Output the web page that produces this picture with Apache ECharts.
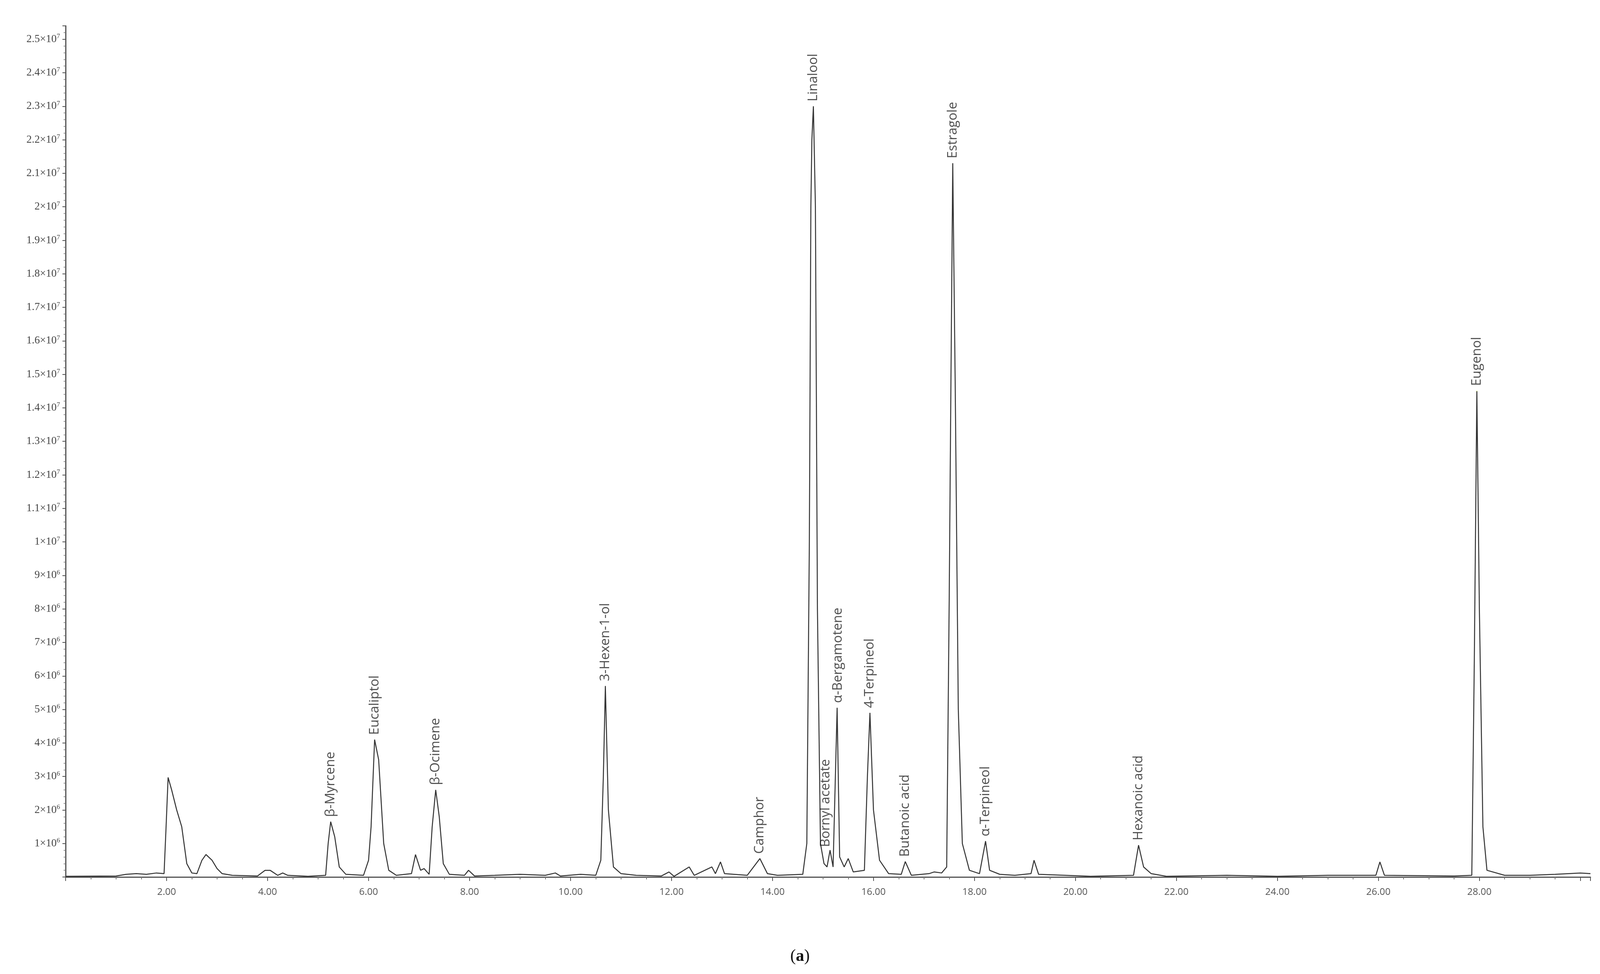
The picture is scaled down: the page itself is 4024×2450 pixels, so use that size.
<!DOCTYPE html>
<html><head><meta charset="utf-8">
<script src="https://cdn.jsdelivr.net/npm/echarts@6/dist/echarts.min.js"></script>
<style>html,body{margin:0;padding:0;background:#fff}#c{width:4024px;height:2450px}</style>
</head><body><div id="c"></div>
<script>
// retention time (min) and abundance (×10^6)
const signal = [[0,0.02],[1.0,0.03],[1.2,0.08],[1.4,0.1],[1.6,0.08],[1.8,0.12],[1.95,0.1],[1.99,1.5],[2.03,2.97],[2.1,2.6],[2.2,2.0],[2.3,1.5],[2.4,0.4],[2.5,0.12],[2.6,0.1],[2.7,0.5],[2.78,0.67],[2.9,0.5],[3.0,0.25],[3.1,0.1],[3.3,0.05],[3.8,0.03],[3.95,0.2],[4.05,0.2],[4.2,0.05],[4.3,0.12],[4.4,0.05],[4.8,0.02],[5.15,0.05],[5.2,1.0],[5.25,1.65],[5.33,1.2],[5.42,0.3],[5.55,0.08],[5.9,0.05],[6.0,0.5],[6.05,1.5],[6.12,4.1],[6.2,3.5],[6.3,1.0],[6.4,0.2],[6.55,0.05],[6.85,0.1],[6.93,0.67],[7.03,0.2],[7.1,0.25],[7.2,0.08],[7.26,1.5],[7.33,2.6],[7.4,1.8],[7.48,0.4],[7.6,0.08],[7.9,0.05],[7.98,0.2],[8.1,0.03],[8.5,0.05],[9.0,0.08],[9.5,0.05],[9.7,0.12],[9.8,0.03],[10.2,0.08],[10.5,0.05],[10.6,0.5],[10.65,3.0],[10.69,5.7],[10.75,2.0],[10.85,0.3],[11.0,0.1],[11.3,0.05],[11.8,0.03],[11.95,0.15],[12.05,0.02],[12.35,0.3],[12.45,0.05],[12.8,0.3],[12.87,0.1],[12.97,0.45],[13.05,0.1],[13.5,0.05],[13.75,0.55],[13.9,0.1],[14.1,0.05],[14.6,0.08],[14.68,1.0],[14.73,10],[14.76,20],[14.78,22],[14.81,23.0],[14.85,20],[14.89,8],[14.95,1.0],[15.02,0.4],[15.08,0.3],[15.14,0.8],[15.2,0.3],[15.28,5.05],[15.33,0.6],[15.42,0.3],[15.5,0.55],[15.6,0.15],[15.82,0.2],[15.88,3.0],[15.93,4.9],[16.0,2.0],[16.12,0.5],[16.3,0.1],[16.55,0.08],[16.63,0.46],[16.75,0.05],[17.1,0.1],[17.2,0.15],[17.35,0.12],[17.45,0.3],[17.5,8.3],[17.53,14],[17.57,21.3],[17.62,14.5],[17.68,5],[17.76,1.0],[17.9,0.2],[18.1,0.1],[18.22,1.07],[18.3,0.2],[18.5,0.08],[18.8,0.05],[19.12,0.1],[19.18,0.5],[19.27,0.08],[19.8,0.05],[20.3,0.02],[21.15,0.05],[21.25,0.95],[21.35,0.3],[21.5,0.1],[21.8,0.02],[23.0,0.05],[24.0,0.02],[25.0,0.05],[25.95,0.05],[26.03,0.45],[26.12,0.05],[27.5,0.03],[27.85,0.05],[27.9,6.5],[27.95,14.5],[28.0,8],[28.07,1.5],[28.15,0.2],[28.5,0.05],[29.0,0.05],[29.5,0.08],[30.0,0.12],[30.2,0.1]];
const peakNames = ['β-Myrcene','Eucaliptol','β-Ocimene','3-Hexen-1-ol','Camphor','Linalool','Bornyl acetate','α-Bergamotene','4-Terpineol','Butanoic acid','Estragole','α-Terpineol','Hexanoic acid','Eugenol'];
const peakTimes = [5.25,6.12,7.33,10.69,13.75,14.81,15.05,15.3,15.93,16.63,17.57,18.22,21.25,27.95];
const peakTops  = [1.65,4.1,2.6,5.7,0.55,23.0,0.75,5.05,4.9,0.46,21.3,1.07,0.95,14.5];
const xTickLabels = ['2.00','4.00','6.00','8.00','10.00','12.00','14.00','16.00','18.00','20.00','22.00','24.00','26.00','28.00'];

function yLabel(v){
  if (v <= 0) return '';
  const r = Math.round(v*10)/10;
  if (r < 10) return '{b|' + r + '×10}{s|6}';
  let m = Math.round(r)/10;
  return '{b|' + m + '×10}{s|7}';
}
const chart = echarts.init(document.getElementById('c'));
chart.setOption({
  animation:false,
  backgroundColor:'#fff',
  grid:{left:165,right:24,top:65,bottom:244},
  xAxis:{type:'value',min:0,max:30.2,interval:2,
    axisLine:{lineStyle:{color:'#555',width:3}},
    axisTick:{length:10,lineStyle:{color:'#555',width:2}},
    minorTick:{show:true,splitNumber:4,length:6,lineStyle:{color:'#777',width:2}},
    splitLine:{show:false},
    axisLabel:{fontFamily:'Open Sans',fontSize:24,color:'#555',margin:26,showMaxLabel:false,
      formatter:v=>{const i=xTickLabels.indexOf(v.toFixed(2));return i>=0?xTickLabels[i]:'';}}},
  yAxis:{type:'value',min:0,max:25.4,interval:1,
    axisLine:{show:true,lineStyle:{color:'#555',width:3}},
    axisTick:{show:true,length:8,lineStyle:{color:'#555',width:2}},
    minorTick:{show:true,splitNumber:5,length:5,lineStyle:{color:'#777',width:1.5}},
    splitLine:{show:false},
    axisLabel:{margin:14,formatter:yLabel,showMaxLabel:false,
      rich:{b:{fontFamily:'Liberation Serif',fontSize:27,color:'#444'},s:{fontFamily:'Liberation Serif',fontSize:17,color:'#444',verticalAlign:'top',padding:[0,0,14,0]}}}},
  series:[
    {type:'line',data:signal,showSymbol:false,symbol:'none',lineStyle:{color:'#333',width:2.5},z:2},
    {type:'scatter',symbolSize:0,z:3,
      data:peakTimes.map((t,i)=>({value:[t,peakTops[i]],name:peakNames[i]})),
      label:{show:true,position:'top',rotate:90,align:'left',verticalAlign:'middle',distance:12,
        formatter:p=>p.name,fontFamily:'Open Sans',fontSize:33,color:'#222'}}
  ],
  graphic:[{type:'text',left:'center',top:2385,style:{text:'({a|a})',font:'42px "Liberation Serif"',fill:'#111',
    rich:{a:{fontFamily:'Liberation Serif',fontSize:42,fontWeight:'bold',fill:'#111'}}}}]
});
</script></body></html>
